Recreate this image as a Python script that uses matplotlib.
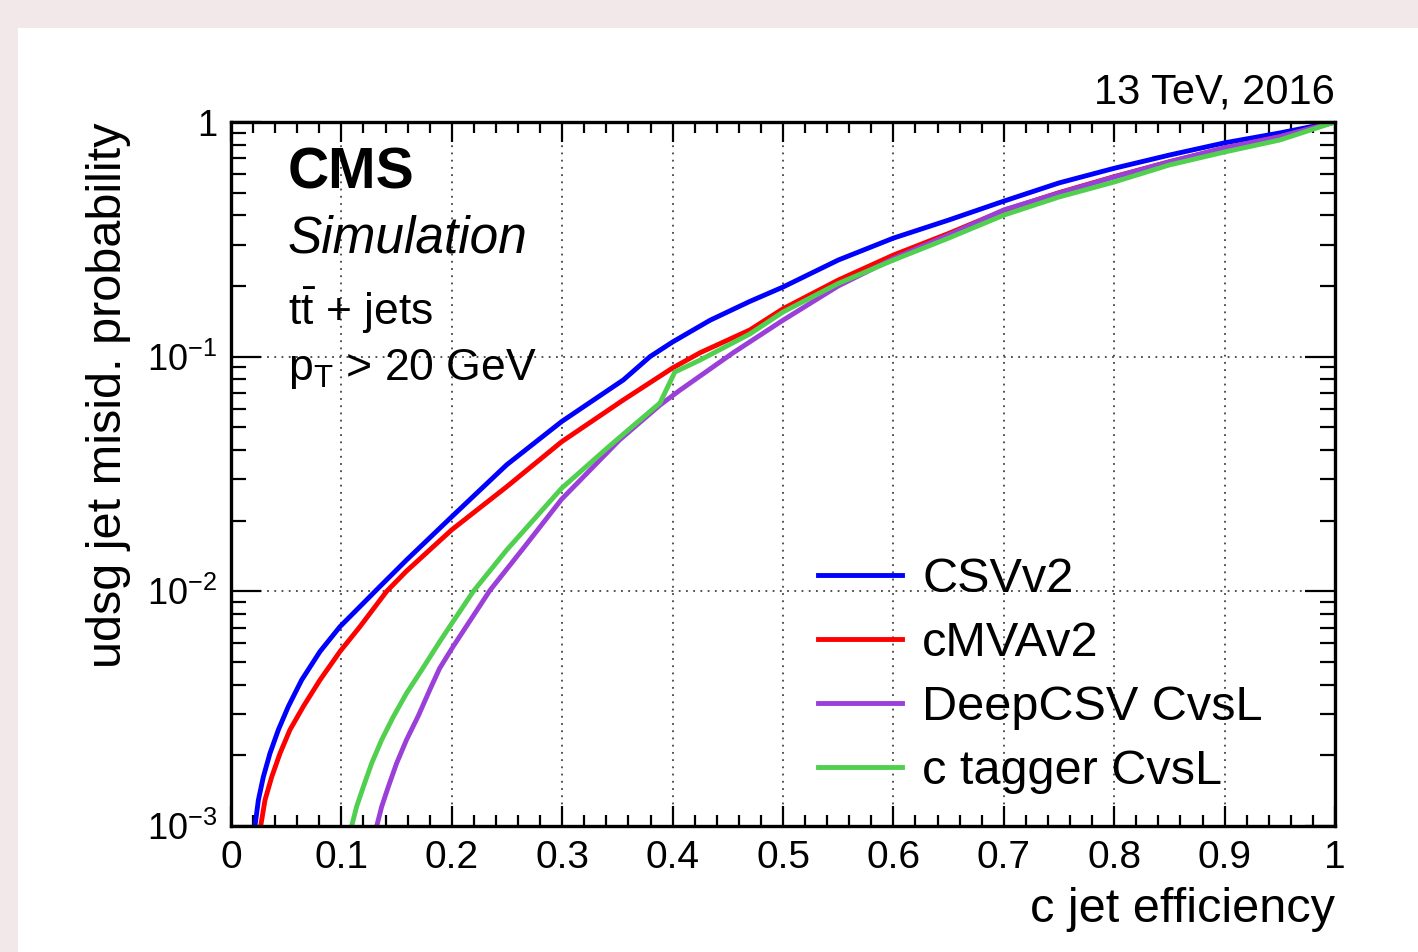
import matplotlib
matplotlib.use('Agg')
import matplotlib.pyplot as plt
from matplotlib.patches import Rectangle
from matplotlib.ticker import FixedLocator, LogLocator, MultipleLocator, NullFormatter

# c jet efficiency / udsg misid. probability
eff_csv = [0.0217, 0.0248, 0.0293, 0.0353, 0.0429, 0.0519, 0.064, 0.0806, 0.0987, 0.1168, 0.135, 0.159,
           0.200, 0.2497, 0.2995, 0.3554, 0.3795, 0.400, 0.434, 0.470, 0.500, 0.550, 0.600, 0.650,
           0.700, 0.750, 0.800, 0.850, 0.900, 0.950, 1.000]
mis_csv = [1.0e-3, 1.29e-3, 1.62e-3, 2.04e-3, 2.57e-3, 3.23e-3, 4.19e-3, 5.54e-3, 7.07e-3, 8.61e-3, 0.0105, 0.0136,
           0.0208, 0.0346, 0.0529, 0.0796, 0.100, 0.1155, 0.143, 0.172, 0.198, 0.258, 0.320, 0.382,
           0.460, 0.550, 0.635, 0.723, 0.815, 0.898, 1.0]

eff_cmva = [0.0269, 0.0308, 0.0369, 0.0444, 0.0534, 0.0655, 0.0806, 0.0987, 0.1168, 0.141, 0.159, 0.200,
            0.2497, 0.2995, 0.3554, 0.400, 0.425, 0.470, 0.500, 0.550, 0.600, 0.650, 0.700, 0.750,
            0.800, 0.850, 0.900, 0.950, 1.000]
mis_cmva = [1.0e-3, 1.29e-3, 1.62e-3, 2.04e-3, 2.57e-3, 3.23e-3, 4.19e-3, 5.54e-3, 7.07e-3, 0.0100, 0.0122, 0.0183,
            0.0279, 0.0434, 0.0654, 0.0895, 0.104, 0.130, 0.160, 0.212, 0.271, 0.335, 0.420, 0.500,
            0.585, 0.677, 0.775, 0.866, 1.0]

eff_deep = [0.132, 0.1365, 0.1425, 0.150, 0.159, 0.1697, 0.180, 0.189, 0.201, 0.2346, 0.265, 0.2995,
            0.340, 0.352, 0.3886, 0.4067, 0.455, 0.500, 0.550, 0.600, 0.650, 0.700, 0.750, 0.800,
            0.850, 0.900, 0.950, 1.000]
mis_deep = [1.0e-3, 1.21e-3, 1.47e-3, 1.85e-3, 2.33e-3, 2.95e-3, 3.8e-3, 4.7e-3, 5.8e-3, 0.0101, 0.0153, 0.0247,
            0.0387, 0.0442, 0.0622, 0.0720, 0.104, 0.143, 0.200, 0.262, 0.330, 0.422, 0.498, 0.583,
            0.677, 0.775, 0.866, 1.0]

eff_ctag = [0.1093, 0.1138, 0.1199, 0.1274, 0.1365, 0.147, 0.159, 0.1727, 0.189, 0.200, 0.2195, 0.2497,
            0.2995, 0.340, 0.352, 0.3886, 0.402, 0.425, 0.470, 0.500, 0.550, 0.600, 0.650, 0.700,
            0.750, 0.800, 0.850, 0.900, 0.950, 1.000]
mis_ctag = [1.0e-3, 1.21e-3, 1.47e-3, 1.85e-3, 2.33e-3, 2.92e-3, 3.68e-3, 4.62e-3, 6.1e-3, 7.3e-3, 0.0100, 0.0150,
            0.0275, 0.0405, 0.0453, 0.0635, 0.086, 0.0968, 0.125, 0.155, 0.205, 0.258, 0.320, 0.401,
            0.479, 0.555, 0.656, 0.745, 0.838, 1.0]

labels = ['CSVv2', 'cMVAv2', 'DeepCSV CvsL', 'c tagger CvsL']
colors = ['#0000ff', '#ff0000', '#9b3fd9', '#51cf4f']

x_ticks = [0, 0.1, 0.2, 0.3, 0.4, 0.5, 0.6, 0.7, 0.8, 0.9, 1]
x_ticklabels = ['0', '0.1', '0.2', '0.3', '0.4', '0.5', '0.6', '0.7', '0.8', '0.9', '1']
y_ticks = [1e-3, 1e-2, 1e-1, 1]
y_ticklabels = ['$10^{-3}$', '$10^{-2}$', '$10^{-1}$', '1']

plt.rcParams['font.family'] = ['Liberation Sans', 'DejaVu Sans']
plt.rcParams['mathtext.fontset'] = 'custom'
plt.rcParams['mathtext.rm'] = 'Liberation Sans'
plt.rcParams['mathtext.it'] = 'Liberation Sans:italic'
plt.rcParams['mathtext.bf'] = 'Liberation Sans:bold'
plt.rcParams['mathtext.default'] = 'regular'

fig = plt.figure(figsize=(14.18, 9.52), dpi=100, facecolor='#f2e8e9')
# white panel over the pink page
fig.add_artist(Rectangle((18 / 1418, 0), 1 - 18 / 1418, 1 - 28 / 952,
                         transform=fig.transFigure, facecolor='white', edgecolor='none', zorder=0))

ax = fig.add_axes([231 / 1418, 126 / 952, 1104 / 1418, 704 / 952])

curves = [(eff_csv, mis_csv), (eff_cmva, mis_cmva), (eff_deep, mis_deep), (eff_ctag, mis_ctag)]
for (ex, my), label, color in zip(curves, labels, colors):
    ax.plot(ex, my, color=color, lw=3.5, label=label, solid_joinstyle='round')

ax.set_yscale('log')
ax.set_xlim(0, 1)
ax.set_ylim(1e-3, 1)

# axis ticks, ROOT style (inside, all four sides)
ax.xaxis.set_major_locator(FixedLocator(x_ticks))
ax.set_xticklabels(x_ticklabels)
ax.xaxis.set_minor_locator(MultipleLocator(0.02))
ax.yaxis.set_major_locator(FixedLocator(y_ticks))
ax.set_yticklabels(y_ticklabels)
ax.yaxis.set_minor_locator(LogLocator(base=10, subs=range(2, 10)))
ax.yaxis.set_minor_formatter(NullFormatter())

ax.tick_params(axis='both', which='both', direction='in', top=True, right=True, width=1.6, colors='black')
ax.tick_params(axis='x', which='major', length=14.5, pad=10, labelsize=28)
ax.tick_params(axis='x', which='minor', length=8)
ax.tick_params(axis='y', which='major', length=21.5, pad=10, labelsize=26)
ax.tick_params(axis='y', which='minor', length=11)
for sp in ax.spines.values():
    sp.set_linewidth(2.4)

ax.grid(True, which='major', color='#444444', linestyle=(0, (1, 3)), linewidth=1.3)

# axis titles
ax.set_xlabel('c jet efficiency', fontsize=35, ha='right', va='baseline')
ax.xaxis.set_label_coords(1.0, -0.136)
ax.set_ylabel('udsg jet misid. probability', fontsize=35, ha='right', va='baseline')
ax.yaxis.set_label_coords(-0.0996, 1.0)

# CMS labels
ax.text(0.0516, 0.906, 'CMS', transform=ax.transAxes, fontsize=41, fontweight='bold', va='baseline')
ax.text(0.0516, 0.815, 'Simulation', transform=ax.transAxes, fontsize=37, style='italic', va='baseline')
ax.text(0.0516, 0.712, r'$\mathrm{t\bar{t}}$ + jets', transform=ax.transAxes, fontsize=32, va='baseline')
ax.text(0.0516, 0.634, r'p$_{\mathrm{T}}$ > 20 GeV', transform=ax.transAxes, fontsize=32, va='baseline')
ax.text(1.0, 1.0256, '13 TeV, 2016', transform=ax.transAxes, fontsize=30, ha='right', va='baseline')

leg = ax.legend(loc='upper left', bbox_to_anchor=(0.5317, 0.3826), frameon=False, fontsize=35,
                handlelength=1.73, handletextpad=0.41, labelspacing=0.39,
                borderpad=0, borderaxespad=0)
for line in leg.get_lines():
    line.set_linewidth(3.5)

fig.savefig('out.png', dpi=100, facecolor=fig.get_facecolor())
